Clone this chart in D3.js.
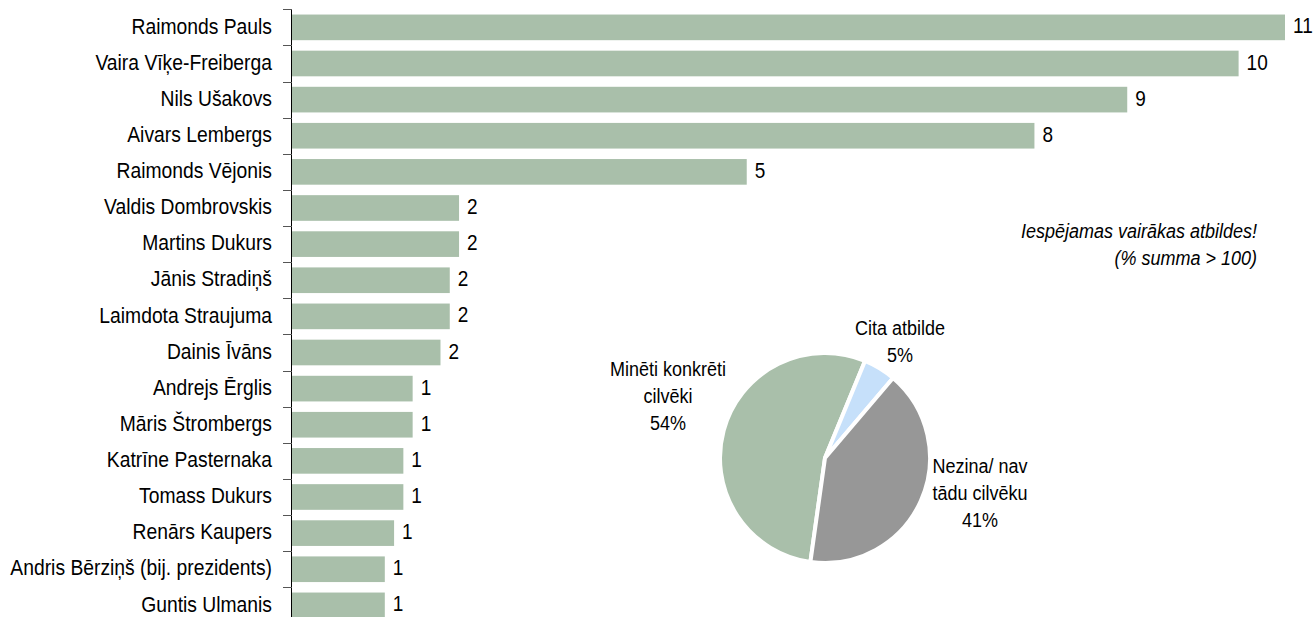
<!DOCTYPE html>
<html><head><meta charset="utf-8">
<script src="https://cdn.jsdelivr.net/npm/d3@7"></script>
<style>body{margin:0;background:#fff}svg{display:block}text{font-family:"Liberation Sans",Arial,sans-serif;fill:#000}</style>
</head><body>
<svg id="c" width="1315" height="617"></svg>
<script>
const categories = ["Raimonds Pauls","Vaira Vīķe-Freiberga","Nils Ušakovs","Aivars Lembergs","Raimonds Vējonis","Valdis Dombrovskis","Martins Dukurs","Jānis Stradiņš","Laimdota Straujuma","Dainis Īvāns","Andrejs Ērglis","Māris Štrombergs","Katrīne Pasternaka","Tomass Dukurs","Renārs Kaupers","Andris Bērziņš (bij. prezidents)","Guntis Ulmanis"];
const values = [10.7,10.2,9.0,8.0,4.9,1.8,1.8,1.7,1.7,1.6,1.3,1.3,1.2,1.2,1.1,1.0,1.0];
const pieLabels = [["Minēti konkrēti","cilvēki"],["Cita atbilde"],["Nezina/ nav","tādu cilvēku"]];
const pieValues = [54,5,41];
const pieColors = ["#a9bfaa","#c6e0fa","#979797"];
const noteLines = ["Iespējamas vairākas atbildes!","(% summa > 100)"];

const SY = 1.14; // vertical stretch of the original's text
const svg = d3.select("#c");
const x0 = 292;
const x = d3.scaleLinear().domain([0, d3.max(values)]).range([x0, 1285]);
const y = d3.scaleBand().domain(categories).range([9.3, 9.3 + 17*36.125]).paddingInner(0.29).paddingOuter(0.145);

// bars
svg.selectAll("rect.bar").data(values).join("rect").attr("class","bar")
  .attr("x", x0).attr("y", (d,i)=>y(categories[i]))
  .attr("width", d=>x(d)-x0).attr("height", y.bandwidth()).attr("fill","#a9bfaa");

// axis line and ticks
svg.append("line").attr("x1",x0-0.5).attr("x2",x0-0.5).attr("y1",9.3).attr("y2",617).attr("stroke","#000").attr("stroke-width",1);
const step = y.step();
svg.selectAll("line.tk").data(d3.range(categories.length+1)).join("line").attr("class","tk")
  .attr("x1",x0-9).attr("x2",x0).attr("y1",i=>Math.round(9.3+i*step)+0.5).attr("y2",i=>Math.round(9.3+i*step)+0.5)
  .attr("stroke","#555").attr("stroke-width",1);

// category labels
svg.selectAll("text.cat").data(categories).join("text").attr("class","cat")
  .attr("transform", d=>`translate(272,${y(d)+y.bandwidth()/2-1.5}) scale(1,${SY})`).attr("dy","0.35em")
  .attr("text-anchor","end").attr("font-size","19.3px").text(d=>d);

// value labels
const fmt = d3.format(".0f");
svg.selectAll("text.val").data(values).join("text").attr("class","val")
  .attr("transform",(d,i)=>`translate(${x(d)+8},${y(categories[i])+y.bandwidth()/2-1.5}) scale(1,${SY})`).attr("dy","0.35em")
  .attr("font-size","19px").text(d=>fmt(d));

// note
svg.selectAll("text.note").data(noteLines).join("text").attr("class","note")
  .attr("transform",(d,i)=>`translate(1257,${238+i*27}) scale(1,${SY})`).attr("text-anchor","end")
  .attr("font-size","18px").attr("font-style","italic").text(d=>d);

// pie
const cx = 825, cy = 458, R = 105;
const pie = d3.pie().sort(null).startAngle(188*Math.PI/180).endAngle((188+360)*Math.PI/180);
const arcs = pie(pieValues);
const arc = d3.arc().innerRadius(0).outerRadius(R);
const g = svg.append("g").attr("transform",`translate(${cx},${cy})`);
g.selectAll("path").data(arcs).join("path")
  .attr("d", arc).attr("fill",(d,i)=>pieColors[i])
  .attr("stroke","#fff").attr("stroke-width",4).attr("stroke-linejoin","miter");

// pie labels
const labelOffsets = [[-157,-82],[75,-123],[155,15]];
arcs.forEach((a,i)=>{
  const lines = pieLabels[i].concat([a.data+"%"]);
  lines.forEach((ln,j)=>{
    g.append("text").attr("text-anchor","middle").attr("font-size","18px")
      .attr("transform",`translate(${labelOffsets[i][0]},${labelOffsets[i][1]+j*27}) scale(1,${SY})`)
      .text(ln);
  });
});
</script>
</body></html>
